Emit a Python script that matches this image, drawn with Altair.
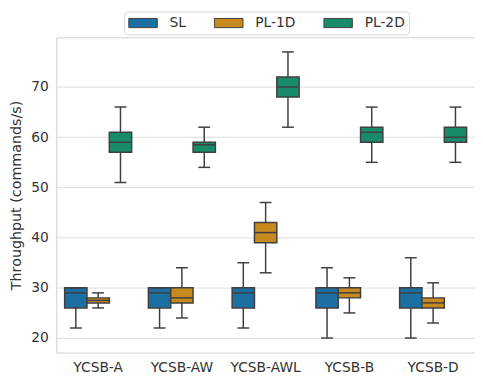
import altair as alt
import pandas as pd

workloads = ["YCSB-A", "YCSB-AW", "YCSB-AWL", "YCSB-B", "YCSB-D"]
systems = ["SL", "PL-1D", "PL-2D"]
colors = ["#1b6fa3", "#c88a1f", "#188b6b"]

sl_low = [22, 22, 22, 20, 20]
sl_q1 = [26, 26, 26, 26, 26]
sl_med = [29, 29, 29, 29, 29]
sl_q3 = [30, 30, 30, 30, 30]
sl_high = [30, 30, 35, 34, 36]

pl1_low = [26, 24, 33, 25, 23]
pl1_q1 = [27, 27, 39, 28, 26]
pl1_med = [27.5, 28, 41, 29, 27]
pl1_q3 = [28, 30, 43, 30, 28]
pl1_high = [29, 34, 47, 32, 31]

pl2_low = [51, 54, 62, 55, 55]
pl2_q1 = [57, 57, 68, 59, 59]
pl2_med = [59, 58.5, 70, 61, 60]
pl2_q3 = [61, 59, 72, 62, 62]
pl2_high = [66, 62, 77, 66, 66]

stats = {
    "SL": (sl_low, sl_q1, sl_med, sl_q3, sl_high),
    "PL-1D": (pl1_low, pl1_q1, pl1_med, pl1_q3, pl1_high),
    "PL-2D": (pl2_low, pl2_q1, pl2_med, pl2_q3, pl2_high),
}
rows = []
for s in systems:
    lo, q1, md, q3, hi = stats[s]
    for i, w in enumerate(workloads):
        rows.append({"workload": w, "system": s, "low": lo[i], "q1": q1[i],
                     "med": md[i], "q3": q3[i], "high": hi[i]})
df = pd.DataFrame(rows)

EDGE = "#3f3f3f"
FONT = "DejaVu Sans"
yscale = alt.Scale(domain=[17.1, 79.9], nice=False, zero=False)
yaxis = alt.Axis(values=[20, 30, 40, 50, 60, 70], title="Throughput (commands/s)")

def Y(field):
    return alt.Y(field, type="quantitative", scale=yscale, axis=yaxis,
                 title="Throughput (commands/s)")

base = alt.Chart(df).encode(
    x=alt.X("workload:N", sort=workloads, title=None,
            scale=alt.Scale(paddingInner=0.2, paddingOuter=0.1),
            axis=alt.Axis(labelAngle=0)),
    xOffset=alt.XOffset("system:N", sort=systems,
                        scale=alt.Scale(paddingInner=0, paddingOuter=0)),
)

whisker = base.mark_rule(color=EDGE, strokeWidth=1.5).encode(y=Y("low"), y2="high:Q")
box = base.mark_bar(stroke=EDGE, strokeWidth=1.5, opacity=1).encode(
    y=Y("q1"), y2="q3:Q",
    fill=alt.Fill("system:N", sort=systems,
                  scale=alt.Scale(domain=systems, range=colors),
                  legend=alt.Legend(title=None, orient="none", direction="horizontal",
                                    legendX=69, legendY=-26)),
)
median = base.mark_tick(color=EDGE, thickness=1.5, size=22, opacity=1).encode(y=Y("med"))
cap_lo = base.mark_tick(color=EDGE, thickness=1.5, size=12, opacity=1).encode(y=Y("low"))
cap_hi = base.mark_tick(color=EDGE, thickness=1.5, size=12, opacity=1).encode(y=Y("high"))

chart = alt.layer(whisker, box, median, cap_lo, cap_hi).properties(
    width=425, height=320,
    padding={"left": 1, "top": 0, "right": 0, "bottom": 0},
).configure(font=FONT).configure_view(
    stroke="#d0d0d0", strokeWidth=1
).configure_axis(
    labelFont=FONT, labelFontSize=14, labelColor="#333333",
    titleFont=FONT, titleFontSize=14.5, titleColor="#333333", titleFontWeight="normal",
    tickSize=0, domain=False,
).configure_axisY(
    grid=True, gridColor="#dddddd", gridWidth=1, labelPadding=8, titlePadding=7,
).configure_axisX(
    grid=False, labelPadding=8,
).configure_legend(
    labelFont=FONT, labelFontSize=14, labelColor="#333333",
    symbolType="M-1,-0.32H1V0.32H-1Z", symbolSize=841,
    symbolStrokeColor=EDGE, symbolStrokeWidth=1, symbolOpacity=1,
    labelOffset=12, columnPadding=28, padding=4, clipHeight=15,
    strokeColor="#d6d6d6", fillColor="white", cornerRadius=3,
)

chart.save("out.html", embed_options={"renderer": "svg", "actions": False})
